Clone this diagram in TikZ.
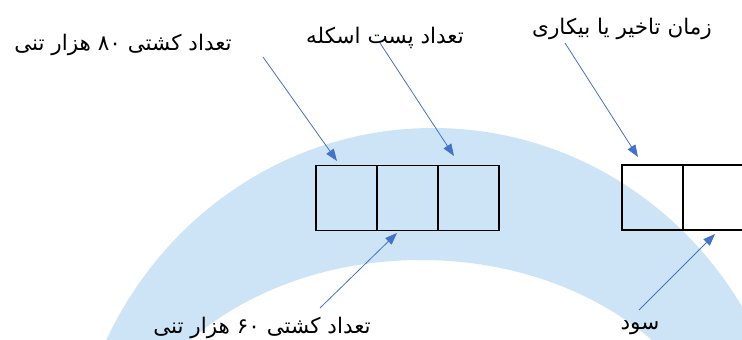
\documentclass[tikz,border=0pt]{standalone}
\usepackage{fontspec}
\TeXXeTstate=1
\newfontfamily\arabicfont[Script=Arabic]{DejaVu Sans}
\usetikzlibrary{arrows.meta}
\definecolor{wm}{RGB}{205,227,246}
\definecolor{arr}{RGB}{68,114,196}
\begin{document}
\begin{tikzpicture}[x=1pt,y=-1pt,
  lbl/.style={font=\arabicfont\fontsize{21.5}{24}\selectfont, inner sep=0pt},
  pointer/.style={draw=arr, line width=0.8pt, -{Triangle[length=12pt,width=9pt]}, arr},
  cell/.style={draw=black, line width=1.5pt, minimum width=61pt, minimum height=65pt, inner sep=0pt}]
\useasboundingbox (0,0) rectangle (742,340);
\clip (0,0) rectangle (742,340);
\fill[white] (0,0) rectangle (742,340);
% watermark band
\fill[wm, even odd rule] (433,501) ellipse [x radius=362, y radius=373] (421,501) ellipse [x radius=310, y radius=241];
% boxes
\node[cell] (a1) at (346.5,198) {};
\node[cell] (a2) at (407.5,198) {};
\node[cell] (a3) at (468.5,198) {};
\node[cell] (b1) at (652.5,197.5) {};
\node[cell] (b2) at (713.5,197.5) {};
% labels
\node[lbl] (l1) at (123,45) {\beginR تعداد کشتی ۸۰ هزار تنی\endR};
\node[lbl] (l2) at (385,38) {\beginR تعداد پست اسکله\endR};
\node[lbl] (l3) at (622,29) {\beginR زمان تاخیر یا بیکاری\endR};
\node[lbl] (l4) at (262,328) {\beginR تعداد کشتی ۶۰ هزار تنی\endR};
\node[lbl] (l5) at (640,328) {\beginR سود\endR};
% connector ends
\coordinate (s1) at (263,57);
\coordinate (t1) at (337,161);
\coordinate (s2) at (380,43);
\coordinate (t2) at (454,156);
\coordinate (s3) at (565,43);
\coordinate (t3) at (638,157);
\coordinate (s4) at (320,308);
\coordinate (t4) at (397,233);
\coordinate (s5) at (639,310);
\coordinate (t5) at (715,234);
\draw[pointer] (s1) -- (t1);
\draw[pointer] (s2) -- (t2);
\draw[pointer] (s3) -- (t3);
\draw[pointer] (s4) -- (t4);
\draw[pointer] (s5) -- (t5);
\end{tikzpicture}
\end{document}
